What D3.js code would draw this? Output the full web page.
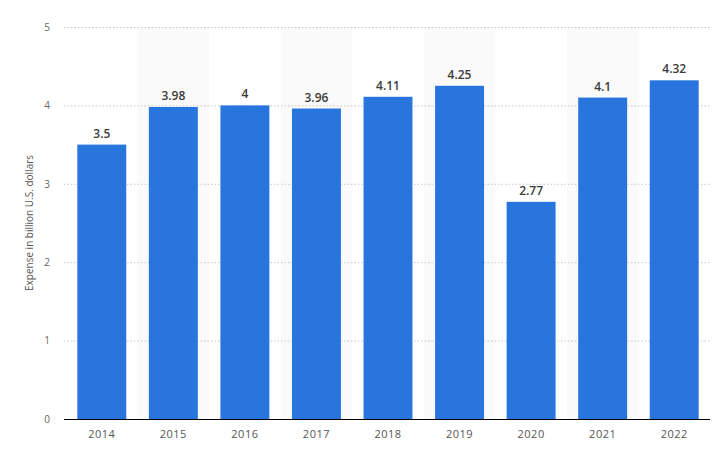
<!DOCTYPE html>
<html lang="en">
<head>
<meta charset="UTF-8">
<title>Expense in billion U.S. dollars</title>
<script src="https://d3js.org/d3.v7.min.js"></script>
<style>
    body { margin: 0; background: #fff; }
    .tick text { font-family: "Open Sans", sans-serif; }
</style>
</head>
<body>
<svg id="chart" width="721" height="461"></svg>
<script>
const years = ["2014", "2015", "2016", "2017", "2018", "2019", "2020", "2021", "2022"];
const expense = [3.5, 3.98, 4, 3.96, 4.11, 4.25, 2.77, 4.1, 4.32];
const yTicks = [0, 1, 2, 3, 4, 5];

const margin = {top: 27, right: 11, bottom: 42, left: 66},
    width = 721 - margin.left - margin.right,
    height = 461 - margin.top - margin.bottom;

const svg = d3.select("#chart")
    .append("g")
    .attr("transform", "translate(" + margin.left + "," + margin.top + ")");

const x = d3.scaleBand().domain(years).range([0, width]).paddingInner(0.316).paddingOuter(0.158);
const y = d3.scaleLinear().domain([0, 5]).range([height, 0]);

// alternating column shading
const step = x.step();
svg.selectAll(".shade")
    .data(years.filter((d, i) => i % 2 === 1))
    .join("rect")
    .attr("class", "shade")
    .attr("x", d => x(d) - step * x.paddingInner() / 2)
    .attr("y", y(5))
    .attr("width", step)
    .attr("height", height)
    .attr("fill", "#fafafa");

// gridlines
svg.selectAll(".grid")
    .data(yTicks.filter(d => d > 0))
    .join("line")
    .attr("class", "grid")
    .attr("x1", -2)
    .attr("x2", width)
    .attr("y1", d => y(d) + 0.5)
    .attr("y2", d => y(d) + 0.5)
    .attr("stroke", "#c8c8c8")
    .attr("stroke-dasharray", "1.5,2");

const yAxis = svg.append("g")
    .call(d3.axisLeft(y).tickValues(yTicks).tickFormat(d3.format("d")).tickSize(0).tickPadding(16));
yAxis.select(".domain").remove();
yAxis.selectAll("text").attr("fill", "#666").attr("font-size", "10px");

svg.selectAll(".bar")
    .data(years)
    .join("rect")
    .attr("class", "bar")
    .attr("x", d => x(d))
    .attr("y", (d, i) => y(expense[i]))
    .attr("width", x.bandwidth())
    .attr("height", (d, i) => height - y(expense[i]))
    .attr("fill", "#2876dd");

svg.selectAll(".label")
    .data(years)
    .join("text")
    .attr("class", "label")
    .attr("x", d => x(d) + x.bandwidth() / 2)
    .attr("y", (d, i) => y(expense[i]) - 7)
    .attr("text-anchor", "middle")
    .attr("font-family", "'Open Sans', sans-serif")
    .attr("font-size", "12px")
    .attr("font-weight", 600)
    .attr("fill", "#3a3a3a")
    .text((d, i) => expense[i]);

const xAxis = svg.append("g")
    .attr("transform", "translate(0," + height + ")")
    .call(d3.axisBottom(x).tickSize(0).tickPadding(11));
xAxis.select(".domain").attr("stroke", "#000").attr("d", "M-2,0.5H" + width);
xAxis.selectAll("text").attr("fill", "#555").attr("font-size", "11px").attr("letter-spacing", "0.5px");

svg.append("text")
    .attr("transform", "rotate(-90)")
    .attr("x", -(y(2.5)))
    .attr("y", -33)
    .attr("text-anchor", "middle")
    .attr("font-family", "'Open Sans', sans-serif")
    .attr("font-size", "10px")
    .attr("fill", "#555")
    .text("Expense in billion U.S. dollars");
</script>
</body>
</html>
